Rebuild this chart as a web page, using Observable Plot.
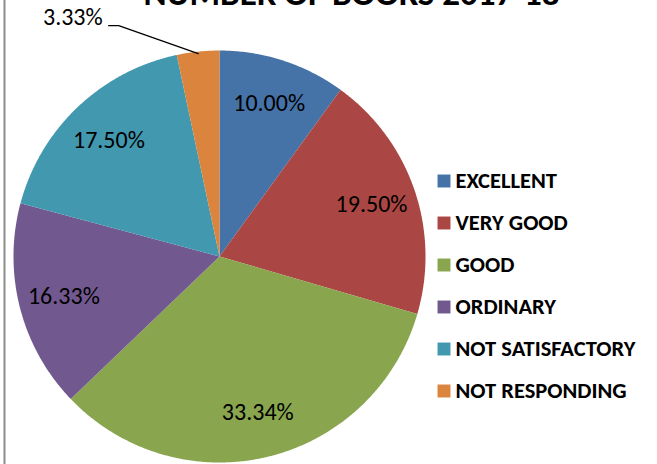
<!DOCTYPE html>
<html><head><meta charset="utf-8">
<script src="https://cdn.jsdelivr.net/npm/d3@7"></script>
<script src="https://cdn.jsdelivr.net/npm/@observablehq/plot@0.6"></script>
<style>body{margin:0;background:#fff;overflow:hidden}</style>
</head><body><div id="chart"></div>
<script>
const title = "NUMBER OF BOOKS 2017-18";
const categories = ["EXCELLENT", "VERY GOOD", "GOOD", "ORDINARY", "NOT SATISFACTORY", "NOT RESPONDING"];
const values = [10.00, 19.50, 33.34, 16.33, 17.50, 3.33];
const colors = ["#4572A7", "#AA4643", "#89A54E", "#71588F", "#4198AF", "#DB843D"];

// layout
const W = 657, H = 464, cx = 219, cy = 256, R = 206, labelFrac = 0.78;
const legendX = 443.5, legendY0 = 180.5, legendStep = 42, legendTextX = 455;
const font = 'Carlito, Calibri, "Liberation Sans", Arial, sans-serif';

const total = d3.sum(values);
const pt = (theta, r) => [cx + r * Math.sin(theta), cy - r * Math.cos(theta)];

let acc = 0;
const slices = categories.map((c, i) => {
  const a0 = acc / total * 2 * Math.PI;
  acc += values[i];
  const a1 = acc / total * 2 * Math.PI;
  const n = Math.max(2, Math.ceil((a1 - a0) / (Math.PI / 360)));
  const ring = [[cx, cy]];
  for (let k = 0; k <= n; k++) ring.push(pt(a0 + (a1 - a0) * k / n, R));
  ring.push([cx, cy]);
  const mid = (a0 + a1) / 2;
  return {category: c, value: values[i], color: colors[i], a0, a1, mid,
    label: values[i].toFixed(2) + "%", outside: values[i] < 5,
    feature: {type: "Feature", properties: {category: c}, geometry: {type: "Polygon", coordinates: [ring]}}};
});

const inside = slices.filter(d => !d.outside).map(d => {
  const [x, y] = pt(d.mid, R * labelFrac);
  return {...d, x, y};
});
const outside = slices.filter(d => d.outside).map(d => {
  const edge = pt(d.mid, R * 0.99);
  const elbow = [edge[0] - 79.5, edge[1] - 28];
  const end = [elbow[0] - 10, elbow[1]];
  return {...d, line: {type: "LineString", coordinates: [edge, elbow, end]},
    x: end[0] - 6, y: end[1] - 8};
});

const legend = categories.map((c, i) => ({category: c, color: colors[i], x: legendX, y: legendY0 + i * legendStep}));

const chart = Plot.plot({
  width: W, height: H,
  margin: 0,
  projection: {type: "identity"},
  style: {background: "#fff", fontFamily: font},
  marks: [
    Plot.geo(slices.map(d => d.feature), {fill: (d, i) => colors[i], stroke: "none"}),
    Plot.text(inside, {x: "x", y: "y", text: "label", fontSize: 24, fill: "#000"}),
    Plot.geo(outside.map(d => d.line), {stroke: "#000", strokeWidth: 1.3, fill: "none"}),
    Plot.text(outside, {x: "x", y: "y", text: "label", fontSize: 24, fill: "#000", textAnchor: "end"}),
    Plot.dot(legend, {x: "x", y: "y", symbol: "square", r: 7.3, fill: "color", stroke: "none"}),
    Plot.text(legend, {x: d => legendTextX, y: "y", text: "category", textAnchor: "start", fontSize: 22.5, fontWeight: "bold", fill: "#000"}),
    Plot.text([title], {x: () => 351, y: () => 4, text: d => d, lineAnchor: "bottom", fontSize: 35, fontWeight: "bold", fill: "#000"}),
    Plot.geo([{type: "LineString", coordinates: [[4, 0], [4, H]]}], {stroke: "#8c8c8c", strokeWidth: 2})
  ]
});
document.getElementById("chart").appendChild(chart);
</script>
</body></html>
